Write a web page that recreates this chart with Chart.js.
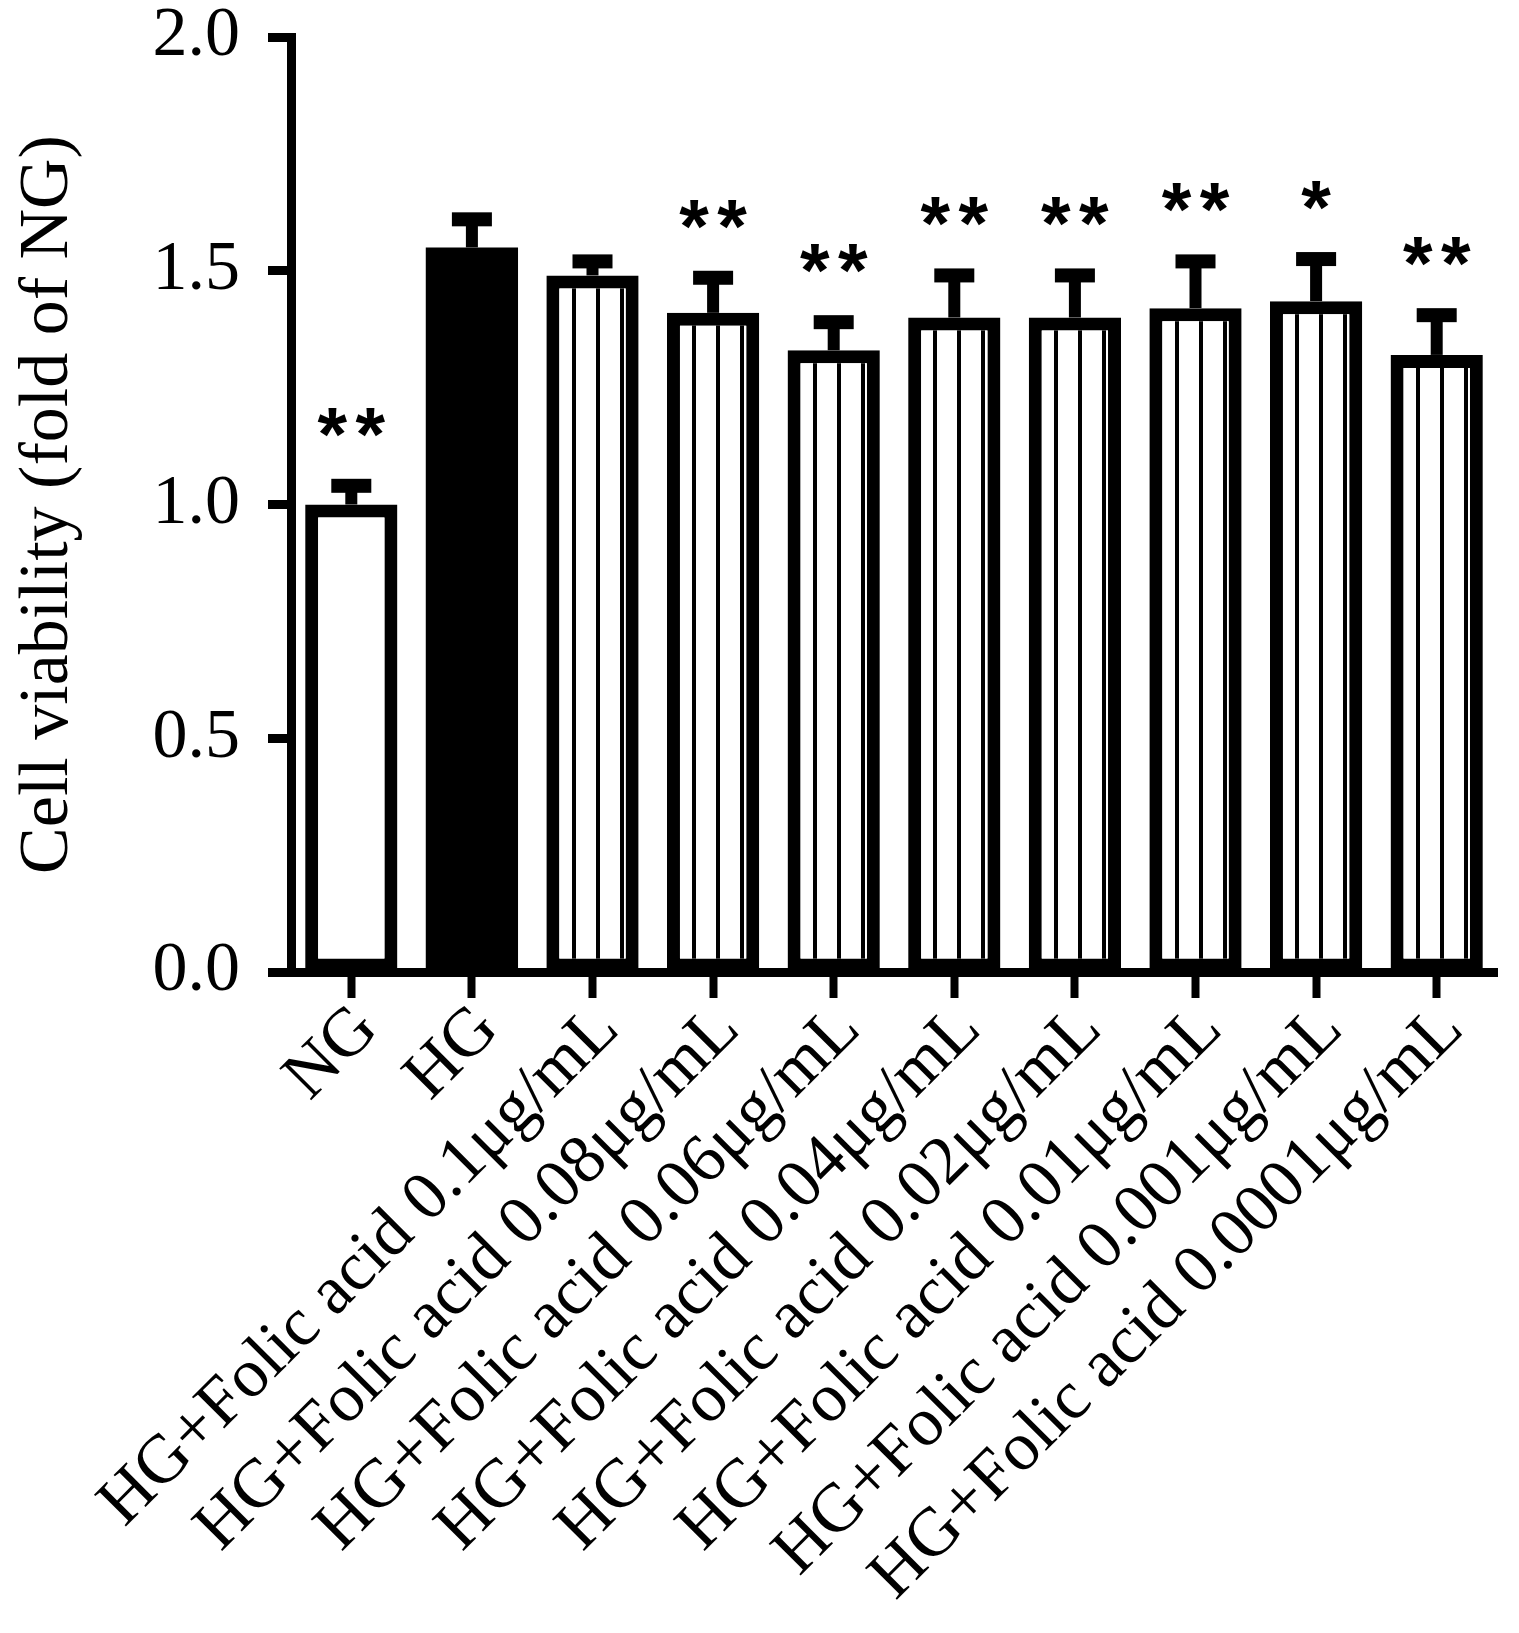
<!DOCTYPE html>
<html>
<head>
<meta charset="utf-8">
<script src="https://cdn.jsdelivr.net/npm/chart.js@4.4.1/dist/chart.umd.min.js"></script>
<style>
  html, body { margin: 0; padding: 0; background: #fff; }
  canvas { display: block; }
</style>
</head>
<body>
<canvas id="chart" width="1519" height="1633"></canvas>
<script>
// Datos del gráfico
const groups = [
  "NG",
  "HG",
  "HG+Folic acid 0.1μg/mL",
  "HG+Folic acid 0.08μg/mL",
  "HG+Folic acid 0.06μg/mL",
  "HG+Folic acid 0.04μg/mL",
  "HG+Folic acid 0.02μg/mL",
  "HG+Folic acid 0.01μg/mL",
  "HG+Folic acid 0.001μg/mL",
  "HG+Folic acid 0.0001μg/mL"
];
const viability = [1.00, 1.55, 1.49, 1.41, 1.33, 1.40, 1.40, 1.42, 1.435, 1.32];
const sem = [0.04, 0.06, 0.03, 0.075, 0.06, 0.09, 0.09, 0.10, 0.09, 0.085];
const marks = ["**", "", "", "**", "**", "**", "**", "**", "*", "**"];
const fills = ["open", "solid", "striped", "striped", "striped", "striped", "striped", "striped", "striped", "striped"];
const yTicks = [0, 0.5, 1.0, 1.5, 2.0];
const yTitle = "Cell viability (fold of NG)";

const serif = "'Liberation Serif', 'Times New Roman', serif";

// Patrón de rayas verticales
const stripeTile = document.createElement('canvas');
stripeTile.width = 24;
stripeTile.height = 8;
const tctx = stripeTile.getContext('2d');
tctx.fillStyle = '#fff';
tctx.fillRect(0, 0, 24, 8);
tctx.fillStyle = '#000';
tctx.fillRect(0, 0, 4, 8);

function barFill(c) {
  const kind = fills[c.dataIndex];
  if (kind === 'solid') return '#000';
  if (kind === 'open') return '#fff';
  const chart = c.chart;
  const cx = chart.scales.x.getPixelForValue(c.dataIndex);
  const pattern = chart.ctx.createPattern(stripeTile, 'repeat');
  pattern.setTransform(new DOMMatrix().translate(Math.round(cx - 21), 0));
  return pattern;
}

// Barras de error y asteriscos
const errorBars = {
  id: 'errorBars',
  afterDatasetsDraw(chart) {
    const ctx = chart.ctx;
    const y = chart.scales.y;
    const meta = chart.getDatasetMeta(0);
    ctx.save();
    ctx.fillStyle = '#000';
    ctx.font = "bold 76px 'Liberation Sans', Arial, sans-serif";
    ctx.textAlign = 'center';
    ctx.textBaseline = 'alphabetic';
    const m = ctx.measureText('*');
    meta.data.forEach((bar, i) => {
      const top = y.getPixelForValue(viability[i]);
      const capY = y.getPixelForValue(viability[i] + sem[i]);
      ctx.fillRect(bar.x - 6, capY, 12, top - capY);
      ctx.fillRect(bar.x - 20, capY - 7, 40, 14);
      const n = marks[i].length;
      if (!n) return;
      const baseline = capY - 49 - m.actualBoundingBoxDescent;
      for (let k = 0; k < n; k++) {
        const sx = bar.x + (k - (n - 1) / 2) * 38;
        ctx.fillText('*', sx, baseline);
      }
    });
    ctx.restore();
  }
};

new Chart(document.getElementById('chart'), {
  type: 'bar',
  data: {
    labels: groups,
    datasets: [{
      data: viability,
      backgroundColor: barFill,
      borderColor: '#000',
      borderWidth: c => (fills[c.dataIndex] === 'solid' ? 0 : 13),
      borderSkipped: false,
      inflateAmount: 0,
      categoryPercentage: 1,
      barPercentage: 0.765
    }]
  },
  options: {
    responsive: false,
    animation: false,
    devicePixelRatio: 1,
    events: [],
    layout: { padding: { top: 37, right: 22, left: 0, bottom: 0 } },
    plugins: { legend: { display: false }, tooltip: { enabled: false } },
    scales: {
      x: {
        offset: true,
        grid: { display: true, drawOnChartArea: false, offset: false, tickLength: 26, tickWidth: 8, tickColor: '#000' },
        border: { display: true, width: 9, color: '#000' },
        ticks: {
          color: '#000',
          font: { family: serif, size: 69, lineHeight: 0.8 },
          minRotation: 45,
          maxRotation: 45,
          autoSkip: false,
          padding: 1,
          labelOffset: 16
        },
        afterFit(scale) {
          scale.height = 661;
          scale.paddingLeft = 0;
          scale.paddingRight = 0;
        }
      },
      y: {
        min: 0,
        max: 2,
        grid: { drawOnChartArea: false, tickLength: 23, tickWidth: 9, tickColor: '#000' },
        border: { display: true, width: 9, color: '#000' },
        ticks: {
          color: '#000',
          font: { family: serif, size: 70, lineHeight: 1 },
          padding: 28,
          callback: v => v.toFixed(1)
        },
        afterBuildTicks(scale) {
          scale.ticks = yTicks.map(v => ({ value: v }));
        },
        title: {
          display: true,
          text: yTitle,
          color: '#000',
          font: { family: serif, size: 70, lineHeight: 1.2 },
          padding: { top: 7, bottom: 0 }
        },
        afterFit(scale) {
          scale.width = 291;
          scale.paddingTop = 0;
          scale.paddingBottom = 0;
        }
      }
    }
  },
  plugins: [errorBars]
});
</script>
</body>
</html>
